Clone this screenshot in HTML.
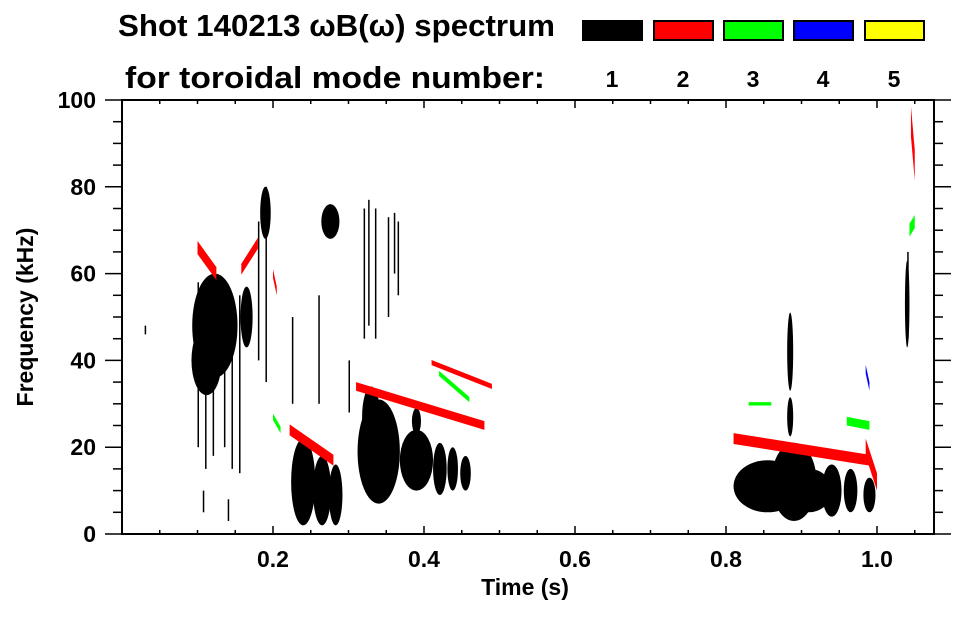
<!DOCTYPE html>
<html><head><meta charset="utf-8"><style>
body{margin:0;background:#fff}
svg text{font-family:"Liberation Sans",sans-serif;font-weight:bold;fill:#000}
</style></head><body>
<svg id="chart" width="963" height="615" xmlns="http://www.w3.org/2000/svg">
<g>
<text x="118" y="36" font-size="31" textLength="437" lengthAdjust="spacingAndGlyphs">Shot 140213 ωB(ω) spectrum</text>
<text x="125" y="88" font-size="31" textLength="420" lengthAdjust="spacingAndGlyphs">for toroidal mode number:</text>
</g>
<g id="legend"></g>
<g id="marks"></g>
<g id="axes"></g>
<text x="525" y="595" font-size="23" text-anchor="middle">Time (s)</text>
<text transform="translate(33,317) rotate(-90)" font-size="23" text-anchor="middle">Frequency (kHz)</text>
</svg>
<script>
const modeColors=['#000','#ff0000','#00ff00','#0000ff','#ffff00'];
const modeLabels=['1','2','3','4','5'];
const xTicks=[0.2,0.4,0.6,0.8,1.0];
const xTickLabels=['0.2','0.4','0.6','0.8','1.0'];
const yTicks=[0,20,40,60,80,100];
const yTickLabels=['0','20','40','60','80','100'];
// elliptical blobs: time, freq, half-width(s), half-height(kHz), mode
const blobT=[0.123,0.112,0.165,0.19,0.276,0.24,0.265,0.283,0.34,0.33,0.39,0.421,0.438,0.455,0.39,0.855,0.89,0.94,0.965,0.99,0.885,0.885,1.04,0.91];
const blobF=[48,40,50,74,72,12,10,9,19,27,17,15,15,14,26,11,12,10,10,9,42,27,53,10];
const blobDt=[0.03,0.02,0.008,0.007,0.012,0.016,0.012,0.009,0.028,0.012,0.022,0.009,0.007,0.007,0.006,0.045,0.03,0.013,0.009,0.008,0.004,0.004,0.003,0.03];
const blobDf=[12,8,7,6,4,10,8,7,12,7,7,6,5,4,3,6,9,6,5,4,9,4.5,10,5];
const blobMode=[1,1,1,1,1,1,1,1,1,1,1,1,1,1,1,1,1,1,1,1,1,1,1,1];
// bands: t0,t1, centre freq at start/end, thickness (kHz), mode
const bandT0=[0.1,0.158,0.222,0.31,0.41,0.42,0.81,0.985,1.045,0.96,0.2,0.2,1.043,0.83,0.985];
const bandT1=[0.125,0.18,0.28,0.48,0.49,0.46,0.99,1.0,1.05,0.99,0.21,0.205,1.05,0.86,0.99];
const bandF0=[66,61,24,34,39.5,37,22,20,95,26,27,60,70,30,38];
const bandF1=[60,67,17,25,34,31,17,12,85,25,24,56,72,30,34];
const bandW=[3,2.5,2.5,2,1.2,1.2,2.5,4,7,2,1.5,2,3,0.8,2];
const bandMode=[2,2,2,2,2,3,2,2,2,3,3,2,3,3,4];
// vertical streaks: time, low and high freq, mode
const streakT=[0.1,0.11,0.12,0.135,0.145,0.155,0.18,0.19,0.32,0.326,0.335,0.352,0.36,0.365,0.03,0.225,0.26,0.3,1.04,0.107,0.14];
const streakLo=[20,15,18,20,15,14,40,35,45,48,45,50,60,55,46,30,30,28,45,5,3];
const streakHi=[58,58,60,55,55,55,72,80,75,77,75,73,74,72,48,50,55,40,65,10,8];
const streakMode=[1,1,1,1,1,1,1,1,1,1,1,1,1,1,1,1,1,1,1,1,1];

const L=122,R=934,T=100,B=534;
const X=t=>L+t*755, Y=f=>B-f*4.34;
const NS='http://www.w3.org/2000/svg';
function mk(tag,parent,attrs){const e=document.createElementNS(NS,tag);for(const k in attrs)e.setAttribute(k,attrs[k]);parent.appendChild(e);return e;}
const marks=document.getElementById('marks');
for(let i=0;i<blobT.length;i++){
 const e=mk('ellipse',marks,{cx:X(blobT[i]),cy:Y(blobF[i]),rx:blobDt[i]*755,ry:blobDf[i]*4.34,fill:modeColors[blobMode[i]-1]});
 
 
}
for(let i=0;i<streakT.length;i++){
 const e=mk('rect',marks,{x:X(streakT[i]),y:Y(streakHi[i]),width:1.5,height:(streakHi[i]-streakLo[i])*4.34,fill:modeColors[streakMode[i]-1]});
 
 
}
for(let i=0;i<bandT0.length;i++){
 const h=bandW[i]/2;
 const p=[[X(bandT0[i]),Y(bandF0[i]+h)],[X(bandT1[i]),Y(bandF1[i]+h)],[X(bandT1[i]),Y(bandF1[i]-h)],[X(bandT0[i]),Y(bandF0[i]-h)]];
 const e=mk('polygon',marks,{points:p.map(q=>q.join(',')).join(' '),fill:modeColors[bandMode[i]-1]});
 
 
}
// legend
const lg=document.getElementById('legend');
const lx=[582,653,723,793,864];
for(let i=0;i<modeColors.length;i++){
 const r=mk('rect',lg,{x:lx[i]+1,y:21,width:59,height:19,fill:modeColors[i],stroke:'#000','stroke-width':2});
 
 
 const t=mk('text',lg,{x:lx[i]+30,y:87,'font-size':23,'text-anchor':'middle'});
 t.textContent=modeLabels[i];
 
 
}
// axes
const ax=document.getElementById('axes');
mk('rect',ax,{x:L,y:T,width:R-L,height:B-T,fill:'none',stroke:'#000','stroke-width':2});
for(let t=0;t<=1.07;t+=0.05){
 const major=Math.abs(t*5-Math.round(t*5))<1e-6;
 const len=major?8:4;
 mk('line',ax,{x1:X(t),x2:X(t),y1:B,y2:B-len,stroke:'#000','stroke-width':1.5});
 mk('line',ax,{x1:X(t),x2:X(t),y1:T,y2:T+len,stroke:'#000','stroke-width':1.5});
}
for(let f=0;f<=100;f+=5){
 const major=f%20===0, len=major?17:9;
 mk('line',ax,{x1:L,x2:L-len,y1:Y(f),y2:Y(f),stroke:'#000','stroke-width':1.5});
 mk('line',ax,{x1:R,x2:R+len,y1:Y(f),y2:Y(f),stroke:'#000','stroke-width':1.5});
}
for(let i=0;i<xTicks.length;i++){
 const t=mk('text',ax,{x:X(xTicks[i]),y:567,'font-size':23,'text-anchor':'middle'});
 t.textContent=xTickLabels[i];
 
 
}
for(let i=0;i<yTicks.length;i++){
 const t=mk('text',ax,{x:96,y:Y(yTicks[i])+8,'font-size':23,'text-anchor':'end'});
 t.textContent=yTickLabels[i];
 
 
}
</script>
</body></html>
